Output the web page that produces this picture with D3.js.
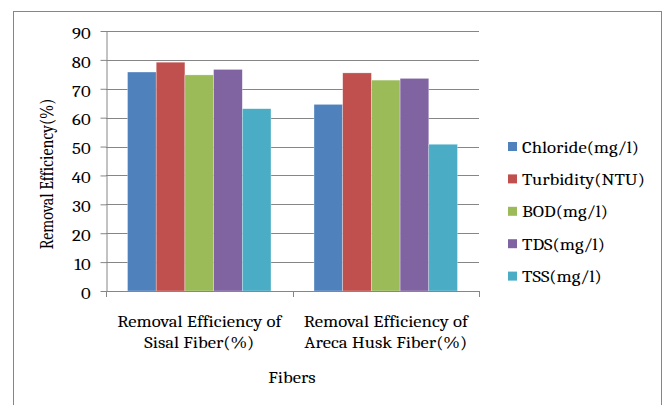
<!DOCTYPE html>
<html>
<head>
<meta charset="utf-8">
<script src="https://cdn.jsdelivr.net/npm/d3@7"></script>
<style>
  html, body { margin: 0; padding: 0; background: #fff; }
  svg { display: block; }
</style>
</head>
<body>
<svg id="chart" width="665" height="405"></svg>
<script>
// Fiber types (x categories), each label split into two lines
const categories = ["Removal Efficiency of Sisal Fiber(%)", "Removal Efficiency of Areca Husk Fiber(%)"];
const categoryLines = [["Removal Efficiency of", "Sisal Fiber(%)"], ["Removal Efficiency of", "Areca Husk Fiber(%)"]];

// Parameters (series)
const seriesNames = ["Chloride(mg/l)", "Turbidity(NTU)", "BOD(mg/l)", "TDS(mg/l)", "TSS(mg/l)"];
const seriesColors = ["#4F81BD", "#C0504D", "#9BBB59", "#8064A2", "#4BACC6"];

// Removal efficiency (%) per parameter, one value per fiber
const chloride  = [75.8, 64.6];
const turbidity = [79.2, 75.5];
const bod       = [74.8, 73.0];
const tds       = [76.7, 73.6];
const tss       = [63.1, 50.8];
const seriesValues = [chloride, turbidity, bod, tds, tss];

const yTicks = [0, 10, 20, 30, 40, 50, 60, 70, 80, 90];

const FONT = '"Cambria", "Caladea", "Liberation Serif", serif';
const FS = "17px";       // horizontal labels
const STRETCH = 1.1;     // slightly widened lettering

const svg = d3.select("#chart");

// Outer chart frame
svg.append("rect")
  .attr("x", 13.5).attr("y", 11.5)
  .attr("width", 648).attr("height", 420)
  .attr("fill", "none").attr("stroke", "#868686").attr("stroke-width", 1);

const plot = { left: 106, right: 479, top: 31, bottom: 291 };

const x0 = d3.scaleBand().domain(categories).range([plot.left, plot.right]).paddingInner(0).paddingOuter(0);
const x1 = d3.scaleBand().domain(seriesNames).range([0, x0.bandwidth()]).paddingInner(0).paddingOuter(0.75);
const y = d3.scaleLinear().domain([0, 90]).range([plot.bottom, plot.top]);

// Horizontal gridlines
svg.append("g")
  .selectAll("line")
  .data(yTicks.filter(t => t > 0))
  .join("line")
  .attr("x1", plot.left).attr("x2", plot.right)
  .attr("y1", d => Math.round(y(d)) + 0.5).attr("y2", d => Math.round(y(d)) + 0.5)
  .attr("stroke", "#868686").attr("stroke-width", 1);

// Bars
const groups = svg.append("g")
  .selectAll("g")
  .data(categories)
  .join("g")
  .attr("transform", d => `translate(${x0(d)},0)`);

groups.selectAll("rect")
  .data((c, ci) => seriesNames.map((s, si) => ({ s, si, v: seriesValues[si][ci] })))
  .join("rect")
  .attr("x", d => x1(d.s))
  .attr("width", x1.bandwidth())
  .attr("y", d => y(d.v))
  .attr("height", d => y(0) - y(d.v))
  .attr("fill", d => seriesColors[d.si])
  .attr("stroke", "#ffffff").attr("stroke-opacity", 0.5).attr("stroke-width", 0.6);

// Y axis
const yAxis = d3.axisLeft(y).tickValues(yTicks).tickSize(6).tickPadding(8.5).tickSizeOuter(0);
const yg = svg.append("g").attr("transform", `translate(${plot.left + 0.5},0)`).call(yAxis);
yg.select(".domain").attr("stroke", "#868686");
yg.selectAll(".tick line").attr("stroke", "#868686");
yg.selectAll(".tick text")
  .style("font-family", FONT).style("font-size", FS).attr("fill", "#000")
  .attr("dy", "0.43em")
  .attr("transform", `scale(${STRETCH},1)`);

// X axis (category boundaries as tick marks)
svg.append("line")
  .attr("x1", plot.left).attr("x2", plot.right)
  .attr("y1", plot.bottom + 0.5).attr("y2", plot.bottom + 0.5)
  .attr("stroke", "#868686");
const bounds = [plot.left, ...categories.map(c => x0(c) + x0.bandwidth())];
svg.append("g").selectAll("line")
  .data(bounds)
  .join("line")
  .attr("x1", d => Math.round(d) + 0.5).attr("x2", d => Math.round(d) + 0.5)
  .attr("y1", plot.bottom).attr("y2", plot.bottom + 6)
  .attr("stroke", "#868686");

// Category labels
const catLabels = svg.append("g").selectAll("text")
  .data(categories)
  .join("text")
  .attr("text-anchor", "middle")
  .style("font-family", FONT).style("font-size", FS)
  .attr("transform", d => `translate(${x0(d) + x0.bandwidth() / 2},0) scale(${STRETCH},1)`);
catLabels.each(function(d, i) {
  const t = d3.select(this);
  categoryLines[i].forEach((line, li) => {
    t.append("tspan").attr("x", 0).attr("y", 327 + li * 21.5).text(line);
  });
});

// Axis titles
svg.append("text")
  .attr("transform", `translate(292,382.5) scale(${STRETCH},1)`)
  .attr("text-anchor", "middle")
  .style("font-family", FONT).style("font-size", FS)
  .text("Fibers");

svg.append("text")
  .attr("transform", "translate(52.5,174) rotate(-90) scale(1,1.15)")
  .attr("text-anchor", "middle")
  .style("font-family", FONT).style("font-size", "16px")
  .text("Removal Efficiency(%)");

// Legend
const legend = svg.append("g").attr("transform", "translate(508,146.5)");
const items = legend.selectAll("g")
  .data(seriesNames)
  .join("g")
  .attr("transform", (d, i) => `translate(0,${i * 32.4})`);
items.append("rect")
  .attr("x", 0).attr("y", -4.5).attr("width", 9).attr("height", 9)
  .attr("fill", (d, i) => seriesColors[i]);
items.append("text")
  .attr("transform", `translate(14,6) scale(${STRETCH},1)`)
  .style("font-family", FONT).style("font-size", FS)
  .text(d => d);
</script>
</body>
</html>
